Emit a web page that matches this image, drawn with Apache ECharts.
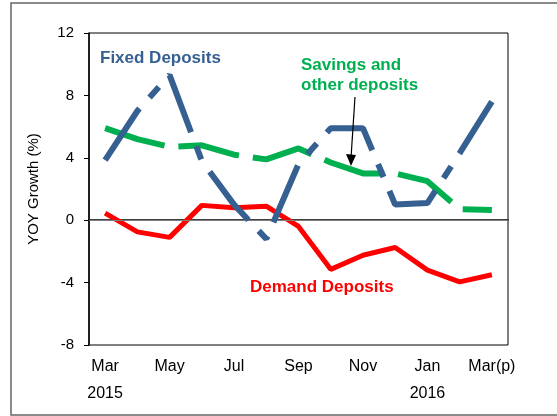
<!DOCTYPE html>
<html>
<head>
    <meta charset="utf-8">
    <title>Deposit growth</title>
    <script src="https://cdn.jsdelivr.net/npm/echarts@6/dist/echarts.min.js"></script>
    <style>
        html, body { margin: 0; padding: 0; background: #fff; overflow: hidden; }
        #chart { width: 557px; height: 416px; }
    </style>
</head>
<body>
<div id="chart"></div>
<script>
    // data
    var months = ['Mar', 'Apr', 'May', 'Jun', 'Jul', 'Aug', 'Sep', 'Oct', 'Nov', 'Dec', 'Jan', 'Feb', 'Mar(p)'];
    var years = ['2015', '', '', '', '', '', '', '', '', '', '2016', '', ''];
    var fixedDeposits = [3.85, 7.0, 9.3, 3.8, 1.0, -1.2, 3.6, 5.9, 5.9, 1.0, 1.1, 4.3, 7.6];
    var savingsDeposits = [5.9, 5.2, 4.7, 4.8, 4.2, 3.9, 4.6, 3.7, 3.0, 3.0, 2.5, 0.7, 0.65];
    var demandDeposits = [0.45, -0.75, -1.1, 0.95, 0.8, 0.9, -0.4, -3.15, -2.25, -1.75, -3.2, -3.95, -3.5];

    var font = 'Liberation Sans, Arial, sans-serif';
    var chart = echarts.init(document.getElementById('chart'));

    chart.setOption({
        animation: false,
        grid: { left: 89, top: 33, right: 49, bottom: 71, show: true, borderColor: '#000', borderWidth: 1 },
        xAxis: {
            type: 'category',
            data: months,
            boundaryGap: true,
            axisLine: { lineStyle: { color: '#000', width: 1.5 } },
            axisTick: { alignWithLabel: true, length: 4, lineStyle: { color: '#000' } },
            axisLabel: {
                interval: 1,
                color: '#000',
                fontFamily: font,
                fontSize: 16,
                lineHeight: 27,
                margin: 8,
                formatter: function (v, i) {
                    return years[i] ? v + '\n' + years[i] : v;
                }
            }
        },
        yAxis: {
            type: 'value',
            min: -8,
            max: 12,
            interval: 4,
            name: 'YOY Growth (%)',
            nameLocation: 'middle',
            nameGap: 48,
            nameTextStyle: { color: '#000', fontFamily: font, fontSize: 15 },
            axisLine: { show: true, lineStyle: { color: '#000', width: 1.5 } },
            axisTick: { show: true, length: 5, lineStyle: { color: '#000' } },
            splitLine: { show: false },
            axisLabel: { color: '#000', fontFamily: font, fontSize: 15, margin: 15 }
        },
        series: [
            {
                name: 'Demand Deposits',
                type: 'line',
                data: demandDeposits,
                symbol: 'none',
                z: 3,
                lineStyle: { color: '#ff0000', width: 5 },
                markLine: {
                    silent: true,
                    symbol: 'none',
                    label: { show: false },
                    lineStyle: { color: '#7f7f7f', width: 1, type: 'solid' },
                    data: [{ yAxis: 0 }]
                }
            },
            {
                name: 'Savings and other deposits',
                type: 'line',
                data: savingsDeposits,
                symbol: 'none',
                z: 4,
                lineStyle: { color: '#00b050', width: 6, type: [62, 14], cap: 'butt' }
            },
            {
                name: 'Fixed Deposits',
                type: 'line',
                data: fixedDeposits,
                symbol: 'none',
                z: 5,
                lineStyle: { color: '#376092', width: 6, type: [62, 15, 14, 15], cap: 'butt' }
            }
        ],
        graphic: [
            {
                type: 'polyline',
                shape: { points: [[557, 3], [11, 3], [11, 415], [557, 415]] },
                style: { fill: 'none', stroke: '#666', lineWidth: 1.5 },
                silent: true
            },
            {
                type: 'text', left: 100, top: 50,
                style: { text: 'Fixed Deposits', fill: '#376092', font: 'bold 17px ' + font }
            },
            {
                type: 'text', left: 301, top: 55,
                style: { text: 'Savings and\nother deposits', fill: '#00b050', font: 'bold 17px ' + font, lineHeight: 20 }
            },
            {
                type: 'text', left: 250, top: 279,
                style: { text: 'Demand Deposits', fill: '#ff0000', font: 'bold 17px ' + font }
            },
            {
                type: 'line',
                shape: { x1: 355, y1: 97, x2: 351, y2: 158 },
                style: { stroke: '#000', lineWidth: 1.2 },
                z: 10
            },
            {
                type: 'polygon',
                shape: { points: [[346, 154], [356, 155], [351, 166]] },
                style: { fill: '#000' },
                z: 10
            }
        ]
    });
</script>
</body>
</html>
